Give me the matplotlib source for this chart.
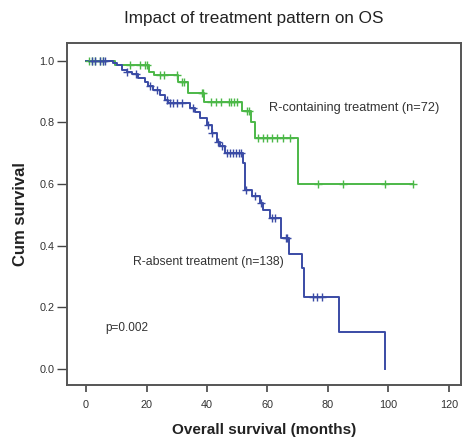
import numpy as np
import matplotlib
matplotlib.use("Agg")
import matplotlib.pyplot as plt

plt.rcParams['font.family'] = ['Liberation Sans', 'DejaVu Sans']

# ---- data ----
# R-containing treatment (green): event times and survival after each event
green_times = [0, 9.6, 20.8, 22.6, 30.4, 33.7, 39.0, 51.5, 54.7, 55.9, 70.0]
green_surv = [1.0, 0.986, 0.965, 0.955, 0.933, 0.895, 0.867, 0.836, 0.80, 0.75, 0.60]
green_end = 108.2
green_censor = [1.0, 2.0, 3.0, 4.5, 5.5, 14.5, 17.9, 19.5, 20.2, 24.5, 25.8, 30.0,
                31.6, 32.4, 38.2, 38.8, 41.3, 42.9, 44.5, 47.2, 48.1, 48.9, 50.0,
                53.1, 54.0, 57.0, 58.5, 60.0, 61.5, 63.0, 65.0, 67.5,
                76.8, 85.0, 98.8, 108.2]

# R-absent treatment (blue)
blue_times = [0, 8.9, 10.2, 11.8, 13.5, 15.1, 17.3, 19.5, 20.6, 22.2, 24.5, 26.1, 27.0,
              34.4, 36.0, 37.7, 39.9, 41.6, 43.2, 44.3, 46.0, 52.0, 52.6, 55.0, 57.5,
              58.4, 60.8, 64.4, 67.2, 71.3, 72.0, 83.7, 98.8]
blue_surv = [1.0, 0.993, 0.986, 0.971, 0.964, 0.957, 0.944, 0.933, 0.917, 0.906, 0.890,
             0.873, 0.863, 0.846, 0.833, 0.813, 0.792, 0.765, 0.738, 0.725, 0.702,
             0.668, 0.58, 0.56, 0.54, 0.516, 0.489, 0.424, 0.373, 0.327, 0.235,
             0.119, 0.0]
blue_end = 98.8
blue_censor = [1.9, 3.0, 4.6, 5.5, 6.3, 13.6, 16.4, 21.2, 23.4, 26.7, 27.8, 28.8,
               30.0, 31.7, 35.4, 40.2, 41.8, 43.6, 44.8, 46.5, 47.5, 48.5, 49.5,
               50.5, 51.4, 53.0, 55.8, 58.0, 61.4, 62.5, 66.0, 66.5, 75.2, 76.3, 77.9]

xticks = [0, 20, 40, 60, 80, 100, 120]
yticks = [0.0, 0.2, 0.4, 0.6, 0.8, 1.0]

GREEN = '#4CB848'
BLUE = '#3A4BA5'

fig = plt.figure(figsize=(4.65, 4.42), dpi=100)
ax = fig.add_axes([67/465, 1-385/442, (461-67)/465, (385-43)/442])


def draw(times, surv, end, censor, color):
    t = list(times) + [end]
    s = list(surv) + [surv[-1]]
    ax.step(t, s, where='post', color=color, lw=1.4, zorder=3)
    ct = np.array(censor)
    idx = np.searchsorted(np.array(times), ct, side='right') - 1
    cs = np.array(surv)[idx]
    ax.plot(ct, cs, linestyle='none', marker='+', markersize=6,
            markeredgewidth=1.0, color=color, zorder=4)


draw(green_times, green_surv, green_end, green_censor, GREEN)
draw(blue_times, blue_surv, blue_end, blue_censor, BLUE)

ax.set_xlim(-6.3, 124.0)
ax.set_ylim(-0.052, 1.058)
ax.set_xticks(xticks)
ax.set_xticklabels([str(v) for v in xticks])
ax.set_yticks(yticks)
ax.set_yticklabels(['%.1f' % v for v in yticks])

for sp in ax.spines.values():
    sp.set_color('#555555')
    sp.set_linewidth(1.4)

ax.tick_params(axis='x', length=5, width=1.2, color='#444444', labelsize=7.8,
               labelcolor='#333333', pad=6)
ax.tick_params(axis='y', length=7, width=1.0, color='#444444', labelsize=7.8,
               labelcolor='#333333', pad=2)

ax.set_xlabel('Overall survival (months)', fontsize=11, fontweight='bold',
              color='#222222', labelpad=9)
ax.set_ylabel('Cum survival', fontsize=12, fontweight='bold', color='#222222',
              labelpad=8)
fig.text(254/465, 1-18/442, 'Impact of treatment pattern on OS', ha='center',
         va='center', fontsize=12.3, color='#222222')

ax.text(60.5, 0.847, 'R-containing treatment (n=72)', fontsize=9.2,
        color='#333333', va='center', ha='left')
ax.text(15.4, 0.348, 'R-absent treatment (n=138)', fontsize=8.8,
        color='#333333', va='center', ha='left')
ax.text(6.3, 0.132, 'p=0.002', fontsize=8.5, color='#333333', va='center',
        ha='left')

fig.savefig('out.png', dpi=100)
